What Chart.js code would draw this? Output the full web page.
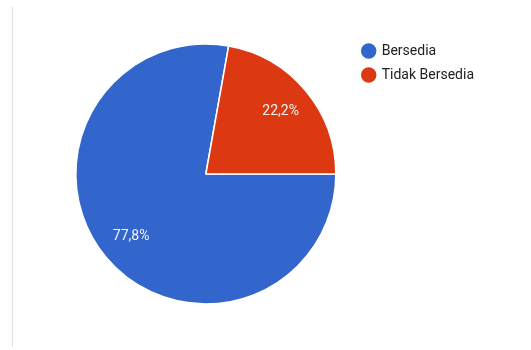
<!DOCTYPE html>
<html lang="id">
<head>
<meta charset="UTF-8">
<title>Bersedia</title>
<script src="https://cdn.jsdelivr.net/npm/chart.js@4.4.0/dist/chart.umd.min.js"></script>
<style>
  html, body { margin: 0; padding: 0; background: #fff; }
  #wrap { width: 531px; height: 350px; }
</style>
</head>
<body>
<div id="wrap"><canvas id="pieChart" width="531" height="350"></canvas></div>
<script>
const labels = ["Bersedia", "Tidak Bersedia"];
const values = [77.8, 22.2];
const colors = ["#3366CC", "#DC3912"];

// thin grey rule on the left edge, like the original card
const edgeLine = {
  id: "edgeLine",
  beforeDraw(chart) {
    const ctx = chart.ctx;
    ctx.save();
    ctx.strokeStyle = "#e0e0e0";
    ctx.lineWidth = 1;
    ctx.beginPath();
    ctx.moveTo(12.5, 7);
    ctx.lineTo(12.5, 347);
    ctx.stroke();
    ctx.restore();
  }
};

// percent text inside each slice
const sliceLabels = {
  id: "sliceLabels",
  afterDatasetsDraw(chart) {
    const ctx = chart.ctx;
    const meta = chart.getDatasetMeta(0);
    ctx.save();
    ctx.fillStyle = "#f4f4f4";
    ctx.font = "14px Roboto";
    ctx.textAlign = "center";
    ctx.textBaseline = "middle";
    meta.data.forEach(function(arc, i) {
      const p = arc.getProps(["x", "y", "startAngle", "endAngle", "outerRadius"], true);
      const mid = (p.startAngle + p.endAngle) / 2;
      const r = p.outerRadius * 0.75;
      const txt = values[i].toFixed(1).replace(".", ",") + "%";
      ctx.fillText(txt, p.x + Math.cos(mid) * r, p.y + Math.sin(mid) * r);
    });
    ctx.restore();
  }
};

new Chart("pieChart", {
  type: "pie",
  data: {
    labels: labels,
    datasets: [{
      data: values,
      backgroundColor: colors,
      borderColor: "#ffffff",
      borderWidth: 1.5
    }]
  },
  options: {
    responsive: false,
    animation: false,
    rotation: 90,
    radius: 130,
    layout: { padding: { left: 59, top: 34, bottom: 36, right: 47 } },
    plugins: {
      tooltip: { enabled: false },
      legend: {
        position: "right",
        align: "start",
        labels: {
          usePointStyle: true,
          pointStyle: "circle",
          boxWidth: 12,
          boxHeight: 12,
          padding: 10,
          color: "#222",
          font: { family: "Roboto", size: 14 }
        }
      }
    }
  },
  plugins: [edgeLine, sliceLabels]
});
</script>
</body>
</html>
